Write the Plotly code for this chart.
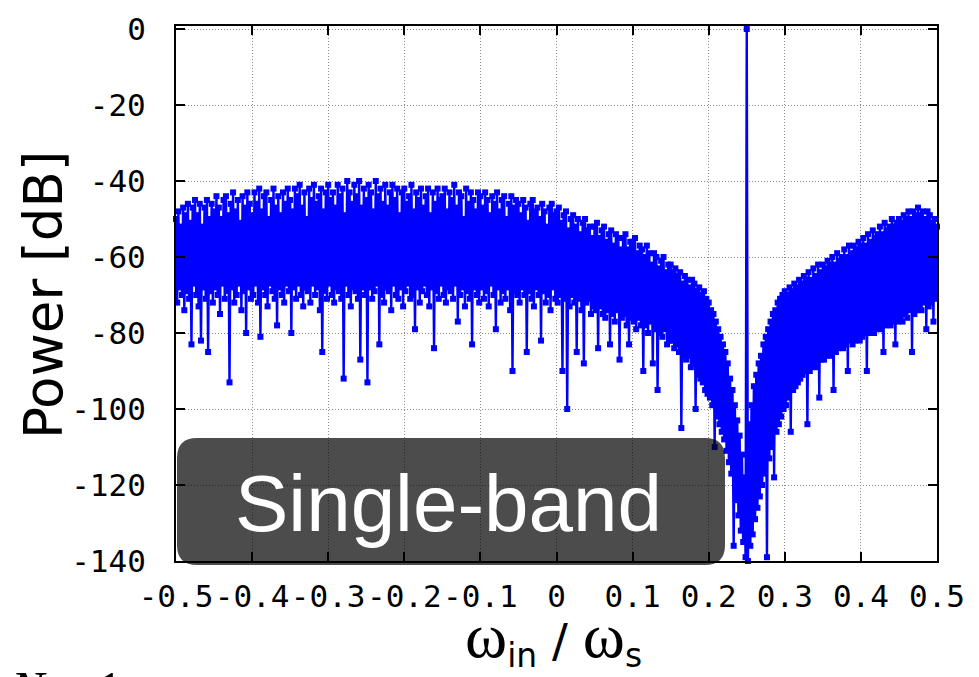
import numpy as np
import plotly.graph_objects as go

# ---------------- data ----------------
# The spectrum alternates between local peaks (upper samples, even bins) and
# troughs (lower samples, odd bins); 641 bins from -0.5 to 0.5.
n_bins = 641
freq = np.linspace(-0.5, 0.5, n_bins)

upper_left = [  # -0.5 ... -0.103
    -50, -48, -52, -47, -49, -46, -51, -47, -45, -49, -46, -52, -47, -45, -50, -46,
    -48, -44, -47, -50, -45, -44, -49, -46, -43, -48, -45, -51, -44, -47, -43, -46,
    -49, -43, -46, -42, -48, -44, -43, -50, -45, -42, -47, -44, -49, -43, -46, -42,
    -45, -48, -42, -44, -41, -47, -43, -50, -42, -45, -41, -46, -44, -42, -48, -43,
    -41, -45, -43, -47, -41, -44, -42, -49, -40, -43, -46, -41, -44, -40, -47, -42,
    -45, -41, -43, -48, -40, -44, -42, -46, -41, -47, -43, -41, -45, -42, -49, -43,
    -42, -46, -44, -41, -48, -43, -45, -42, -47, -44, -42, -49, -43, -46, -42, -45,
    -44, -42, -48, -43, -45, -41, -47, -43, -44, -50, -42, -46, -43, -45, -48, -43,
]
upper_mid = [  # -0.1 ... 0.147
    -44, -47, -43, -45, -49, -44, -46, -43, -48, -45, -44, -50, -46, -44, -47, -45,
    -46, -49, -45, -47, -51, -46, -45, -48, -47, -50, -46, -48, -52, -47, -46, -49,
    -48, -47, -51, -49, -48, -53, -50, -49, -52, -50, -54, -51, -50, -53, -52, -55,
    -52, -51, -55, -53, -52, -56, -54, -53, -57, -54, -55, -58, -55, -54, -58, -56,
    -56, -55, -59, -57, -58, -60, -57, -59, -62, -59, -60, -63, -61, -60, -64, -62,
]
upper_notch = [  # 0.15 ... 0.247
    -62, -64, -63, -65, -64, -67, -65, -66, -68, -66, -67, -69, -68, -70, -69, -71,
    -72, -74, -75, -77, -79, -81, -83, -85, -88, -92, -95, -99, -103, -107, -112, -118,
]
tone = [0]  # input tone at 0.25
upper_right = [  # 0.253 ... 0.5
    -104, -99, -94, -91, -88, -86, -83, -81, -79, -77, -75, -74, -72, -71, -70, -69,
    -70, -68, -69, -67, -68, -66, -67, -65, -66, -64, -66, -63, -65, -62, -64, -62,
    -63, -61, -62, -60, -62, -59, -61, -60, -58, -60, -57, -59, -57, -58, -56, -57,
    -55, -57, -54, -56, -53, -55, -54, -52, -54, -51, -53, -52, -50, -52, -51, -50,
    -51, -49, -50, -48, -50, -48, -49, -47, -49, -48, -50, -48, -49, -51, -50, -52,
]

lower_left = [  # -0.498 ... -0.101
    -72, -68, -70, -74, -69, -71, -83, -67, -70, -73, -82, -68, -71, -85, -69, -72,
    -68, -70, -75, -67, -71, -69, -93, -68, -72, -70, -67, -74, -69, -80, -68, -71,
    -70, -67, -72, -81, -68, -70, -73, -67, -69, -71, -78, -68, -70, -72, -67, -69,
    -80, -68, -71, -67, -70, -73, -68, -69, -72, -67, -70, -68, -74, -85, -69, -71,
    -67, -70, -72, -68, -69, -71, -92, -67, -70, -73, -68, -69, -71, -87, -68, -70,
    -93, -68, -71, -69, -67, -83, -70, -72, -68, -69, -74, -67, -70, -71, -68, -73,
    -69, -67, -71, -70, -79, -68, -72, -69, -67, -70, -73, -68, -84, -69, -71, -67,
    -70, -72, -68, -69, -71, -67, -77, -70, -68, -73, -69, -71, -83, -68, -70, -72,
]
lower_mid = [  # -0.098 ... 0.148
    -68, -71, -69, -73, -67, -70, -79, -68, -72, -69, -71, -68, -74, -90, -69, -70,
    -72, -68, -70, -85, -69, -71, -73, -68, -70, -82, -69, -72, -70, -74, -68, -71,
    -72, -70, -90, -71, -100, -73, -70, -72, -85, -71, -74, -88, -72, -71, -75, -73,
    -74, -84, -73, -75, -76, -74, -83, -75, -77, -74, -87, -76, -75, -78, -83, -76,
    -77, -79, -76, -78, -90, -78, -80, -77, -88, -79, -95, -80, -81, -79, -83, -82,
]
lower_notch = [  # 0.152 ... 0.248
    -82, -84, -83, -85, -105, -86, -87, -86, -89, -88, -100, -91, -92, -93, -95, -96,
    -97, -99, -110, -102, -104, -106, -108, -111, -114, -117, -136, -124, -128, -132, -135, -139,
]
lower_right = [  # 0.252 ... 0.498
    -140, -136, -133, -129, -126, -123, -120, -117, -139, -113, -110, -118, -106, -104, -102, -100,
    -99, -97, -106, -95, -94, -93, -92, -91, -90, -104, -90, -89, -88, -89, -97, -87,
    -87, -86, -85, -86, -95, -85, -84, -83, -84, -83, -90, -82, -83, -82, -81, -82,
    -81, -80, -90, -80, -79, -80, -79, -78, -79, -85, -78, -77, -78, -77, -83, -77,
    -76, -77, -75, -76, -74, -85, -75, -74, -73, -74, -72, -79, -73, -72, -77, -71,
]

x_tick_vals = [-0.5, -0.4, -0.3, -0.2, -0.1, 0, 0.1, 0.2, 0.3, 0.4, 0.5]
x_tick_text = ["-0.5", "-0.4", "-0.3", "-0.2", "-0.1", "0", "0.1", "0.2", "0.3", "0.4", "0.5"]
y_tick_vals = [0, -20, -40, -60, -80, -100, -120, -140]
y_tick_text = ["0", "-20", "-40", "-60", "-80", "-100", "-120", "-140"]
label_text = "Single-band"

# interleave peaks and troughs into one spectrum
upper = upper_left + upper_mid + upper_notch + tone + upper_right
lower = lower_left + lower_mid + lower_notch + lower_right
power = []
for i, u in enumerate(upper):
    power.append(u)
    if i < len(lower):
        power.append(lower[i])

# ---------------- figure ----------------
W, H = 979, 677
OFF = 8  # page body margin of the html page
# plot frame in screen pixels: left 176, right 937, top 26, bottom 561
L, R, T, B = 176 - OFF, W - 937 + OFF, 26 - OFF, H - 561 + OFF
pw, ph = W - L - R, H - T - B


def px_x(sx):  # screen x -> paper
    return (sx - 176) / pw


def px_y(sy):  # screen y -> paper
    return (561 - sy) / ph


fig = go.Figure()
fig.add_trace(go.Scatter(
    x=freq, y=power, mode="lines+markers",
    line=dict(color="#0000ff", width=2.4),
    marker=dict(symbol="square", size=6, color="#0000ff", line=dict(width=0)),
    cliponaxis=False, showlegend=False, hoverinfo="skip",
))

tick_font = dict(family="DejaVu Sans Mono", size=31, color="black")
axis_style = dict(showgrid=True, gridcolor="#8a8a8a", gridwidth=1, griddash="1px,2px",
                  zeroline=False, showline=True, linecolor="black", linewidth=2,
                  mirror="allticks", ticks="inside", ticklen=9, tickwidth=1.5,
                  tickcolor="black", tickfont=tick_font, automargin=False)

fig.update_xaxes(range=[-0.5, 0.5], tickmode="array", tickvals=x_tick_vals,
                 ticktext=x_tick_text, tickangle=0, ticklabelstandoff=7, **axis_style)
fig.update_yaxes(range=[-140, 0.79], tickmode="array", tickvals=y_tick_vals,
                 ticktext=y_tick_text, ticklabelstandoff=22, **axis_style)

# rounded, semi-transparent label box
x0, x1 = px_x(177), px_x(725)
y0, y1 = px_y(565), px_y(438)
rx, ry = 20 / pw, 20 / ph
path = (f"M {x0+rx},{y1} L {x1-rx},{y1} Q {x1},{y1} {x1},{y1-ry} "
        f"L {x1},{y0+ry} Q {x1},{y0} {x1-rx},{y0} L {x0+rx},{y0} "
        f"Q {x0},{y0} {x0},{y0+ry} L {x0},{y1-ry} Q {x0},{y1} {x0+rx},{y1} Z")
fig.add_shape(type="path", path=path, xref="paper", yref="paper",
              fillcolor="rgba(0,0,0,0.7)", line=dict(width=0), layer="above")

annotations = [
    dict(text=label_text, x=px_x(448), y=px_y(503), xref="paper", yref="paper",
         xanchor="center", yanchor="middle", showarrow=False,
         font=dict(family="Liberation Sans", size=80, color="white")),
    dict(text="Power [dB]", x=px_x(43), y=px_y(295), xref="paper", yref="paper",
         xanchor="center", yanchor="middle", textangle=-90, showarrow=False,
         font=dict(family="DejaVu Sans", size=53, color="black")),
    dict(text=('<span style="font-family:Liberation Serif;font-size:64px">ω</span>'
               '<sub>in</sub> / '
               '<span style="font-family:Liberation Serif;font-size:64px">ω</span>'
               '<sub>s</sub>'),
         x=px_x(553), y=px_y(637), xref="paper", yref="paper",
         xanchor="center", yanchor="middle", showarrow=False,
         font=dict(family="DejaVu Sans", size=47, color="black")),
    dict(text="<i>N</i> = 1", x=px_x(8), y=px_y(659), xref="paper", yref="paper",
         xanchor="left", yanchor="top", showarrow=False,
         font=dict(family="Liberation Serif", size=50, color="black")),
]
fig.update_layout(
    width=W, height=H, margin=dict(l=L, r=R, t=T, b=B, pad=0),
    paper_bgcolor="white", plot_bgcolor="white",
    annotations=annotations, showlegend=False,
)

fig.write_html("out.html")
